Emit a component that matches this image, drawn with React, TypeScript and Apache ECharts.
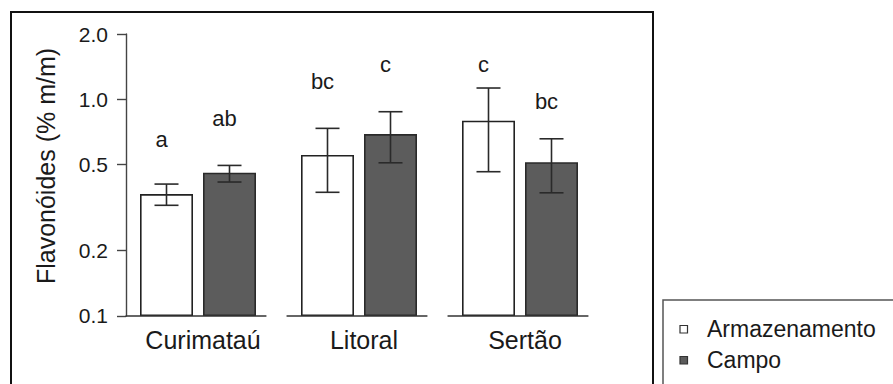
import React, { useEffect, useRef } from "react";
import * as echarts from "echarts";

const categories = ["Curimataú", "Litoral", "Sertão"];
const seriesNames = ["Armazenamento", "Campo"];
const armazenamento = [0.365, 0.553, 0.796];
const campo = [0.458, 0.691, 0.512];
const armazenamentoLow = [0.324, 0.372, 0.463];
const armazenamentoHigh = [0.406, 0.734, 1.127];
const campoLow = [0.415, 0.509, 0.37];
const campoHigh = [0.495, 0.876, 0.657];
const armazenamentoLetters = ["a", "bc", "c"];
const campoLetters = ["ab", "c", "bc"];
const armazenamentoLetterAt = [0.655, 1.205, 1.452];
const campoLetterAt = [0.816, 1.452, 0.974];
const yTicks = [0.1, 0.2, 0.5, 1.0, 2.0];
const yMin = 0.0999;
const yMax = 2.001;
const yTitle = "Flavonóides (% m/m)";

const FONT = "'Liberation Sans', Arial, Helvetica, sans-serif";
const TEXT = "#1a1a1a";
const DARK = "#5c5c5c";
const BAR_W = 53;
const BAR_GAP = 10;
const HALF = (BAR_W + BAR_GAP) / 2;

export default function App() {
  const ref = useRef<HTMLDivElement>(null);
  useEffect(() => {
    if (!ref.current) return;
    const chart = echarts.init(ref.current, null, { renderer: "svg" });

    const errorSeries = (low: number[], high: number[], dir: number) => ({
      type: "custom",
      z: 5,
      silent: true,
      data: categories.map((_, i) => [i, low[i], high[i]]),
      encode: { x: 0, y: [1, 2] },
      renderItem: (params: any, api: any) => {
        const i = api.value(0);
        const lo = api.coord([i, api.value(1)]);
        const hi = api.coord([i, api.value(2)]);
        const x = lo[0] + dir * HALF;
        const cap = 12;
        const st = { stroke: "#2a2a2a", lineWidth: 1.6 };
        return {
          type: "group",
          children: [
            { type: "line", shape: { x1: x, y1: lo[1], x2: x, y2: hi[1] }, style: st },
            { type: "line", shape: { x1: x - cap, y1: lo[1], x2: x + cap, y2: lo[1] }, style: st },
            { type: "line", shape: { x1: x - cap, y1: hi[1], x2: x + cap, y2: hi[1] }, style: st },
          ],
        };
      },
    });

    const letterSeries = (letters: string[], at: number[], dir: number) => ({
      type: "custom",
      z: 6,
      silent: true,
      data: categories.map((_, i) => [i, at[i]]),
      encode: { x: 0, y: 1 },
      renderItem: (params: any, api: any) => {
        const p = api.coord([api.value(0), api.value(1)]);
        return {
          type: "text",
          x: p[0] + dir * HALF - 5,
          y: p[1],
          style: {
            text: letters[params.dataIndex],
            fontSize: 22,
            fontFamily: FONT,
            fill: TEXT,
            align: "center",
            verticalAlign: "middle",
          },
        };
      },
    });

    const option: any = {
      animation: false,
      backgroundColor: "#ffffff",
      grid: { left: 117.5, right: 292.5, top: 34, bottom: 68, containLabel: false },
      xAxis: {
        type: "category",
        data: categories,
        axisLine: { show: false },
        axisTick: { show: false },
        axisLabel: { fontSize: 25, fontFamily: FONT, color: TEXT, margin: 11, padding: [0, 0, 0, 10] },
        splitLine: { show: false },
      },
      yAxis: {
        type: "log",
        logBase: 10,
        min: yMin,
        max: yMax,
        startValue: yMin,
        offset: -8.5,
        axisLine: { show: true, lineStyle: { color: "#444", width: 1.4 } },
        axisTick: { show: true, length: 9, customValues: yTicks, lineStyle: { color: "#444", width: 1.4 } },
        axisLabel: {
          customValues: yTicks,
          formatter: (v: number) => Number(v).toFixed(1),
          fontSize: 21,
          fontFamily: FONT,
          color: TEXT,
          margin: 18,
        },
        splitLine: { show: false },
        minorTick: { show: false },
      },
      series: [
        {
          name: seriesNames[0],
          type: "bar",
          data: armazenamento,
          barWidth: BAR_W,
          barGap: (BAR_GAP / BAR_W) * 100 + "%",
          itemStyle: { color: "#ffffff", borderColor: "#222", borderWidth: 1.6 },
        },
        {
          name: seriesNames[1],
          type: "bar",
          data: campo,
          barWidth: BAR_W,
          barGap: (BAR_GAP / BAR_W) * 100 + "%",
          itemStyle: { color: DARK, borderColor: "#2a2a2a", borderWidth: 1.6 },
        },
        errorSeries(armazenamentoLow, armazenamentoHigh, -1),
        errorSeries(campoLow, campoHigh, 1),
        letterSeries(armazenamentoLetters, armazenamentoLetterAt, -1),
        letterSeries(campoLetters, campoLetterAt, 1),
        {
          type: "custom",
          z: 7,
          silent: true,
          data: categories.map((_, i) => [i, yMin]),
          encode: { x: 0, y: 1 },
          renderItem: (params: any, api: any) => {
            const p = api.coord([api.value(0), api.value(1)]);
            const bw = api.size([1, 0])[0];
            return {
              type: "line",
              shape: { x1: p[0] - 0.45 * bw, y1: p[1], x2: p[0] + 0.425 * bw, y2: p[1] },
              style: { stroke: "#333", lineWidth: 1.6 },
            };
          },
        },
      ],
      graphic: [
        {
          type: "rect",
          silent: true,
          shape: { x: 11, y: 12, width: 642, height: 420 },
          style: { fill: "none", stroke: "#111", lineWidth: 2 },
        },
        {
          type: "text",
          silent: true,
          x: 46,
          y: 166,
          rotation: Math.PI / 2,
          style: {
            text: yTitle,
            fontSize: 25,
            fontFamily: FONT,
            fill: TEXT,
            align: "center",
            verticalAlign: "middle",
          },
        },
        {
          type: "rect",
          silent: true,
          shape: { x: 663, y: 300, width: 260, height: 150 },
          style: { fill: "#fff", stroke: "#555", lineWidth: 1.5 },
        },
        {
          type: "rect",
          silent: true,
          shape: { x: 680, y: 325.5, width: 7.5, height: 7.5 },
          style: { fill: "#fff", stroke: "#333", lineWidth: 1.2 },
        },
        {
          type: "rect",
          silent: true,
          shape: { x: 680, y: 356.5, width: 7.5, height: 7.5 },
          style: { fill: DARK, stroke: "#333", lineWidth: 1.2 },
        },
        {
          type: "text",
          silent: true,
          x: 707,
          y: 329,
          style: { text: seriesNames[0], fontSize: 23, fontFamily: FONT, fill: TEXT, align: "left", verticalAlign: "middle" },
        },
        {
          type: "text",
          silent: true,
          x: 707,
          y: 359.5,
          style: { text: seriesNames[1], fontSize: 23, fontFamily: FONT, fill: TEXT, align: "left", verticalAlign: "middle" },
        },
      ],
    };
    chart.setOption(option);
    return () => chart.dispose();
  }, []);
  return (
    <div
      ref={ref}
      style={{ position: "fixed", left: 0, top: 0, width: 893, height: 384, background: "#fff" }}
    />
  );
}
